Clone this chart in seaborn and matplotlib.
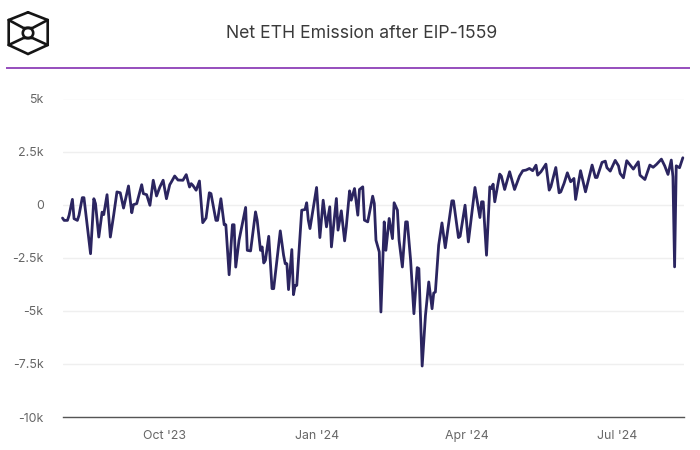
import matplotlib
matplotlib.use("Agg")
import matplotlib.pyplot as plt
import matplotlib.patches as mpatches
import pandas as pd
import seaborn as sns

start_date = "2023-07-31"

days_1 = [0, 1, 3, 4, 6, 7, 9, 10, 12, 13, 15, 17, 19, 20, 22, 24, 25, 27, 29, 31, 33, 35, 37, 40, 42, 43, 45, 48, 49, 51]
net_1 = [-630, -740, -740, -500, 250, -660, -740, -500, 330, 330, -975, -2310, 280, 50, -1525, -350, -470, 470, -1525, -500, 600, 560, -160, 880, -380, 0, 50, 940, 520, 470]

days_2 = [53, 55, 57, 59, 61, 63, 65, 66, 68, 70, 73, 75, 77, 78, 79, 81, 83, 85, 87, 89, 90, 93, 94, 96, 98, 99, 101, 103, 104, 105]
net_2 = [-30, 1150, 410, 830, 1150, 280, 940, 1070, 1350, 1160, 1150, 1415, 830, 990, 910, 680, 1115, -850, -630, 560, 520, -740, -740, 280, -945, -945, -3300, -945, -945, -2940]

days_3 = [107, 111, 112, 114, 117, 118, 120, 121, 122, 123, 125, 127, 128, 132, 134, 135, 136, 137, 139, 140, 141, 142, 145, 147, 148, 149, 150, 154, 156, 158, 160]
net_3 = [-1680, -130, -2150, -2180, -340, -730, -2150, -1990, -2745, -2620, -1490, -3955, -3955, -1235, -2380, -2780, -2780, -4000, -2115, -4240, -3800, -3800, -260, -230, 90, -730, -1125, 810, -1550, 210, -1045]

days_4 = [162, 163, 166, 167, 169, 171, 172, 174, 175, 177, 179, 180, 182, 183, 185, 188, 189, 190, 192, 193, 195, 196, 198, 200, 201, 203, 204, 206, 208, 209, 211, 213, 215, 216]
net_4 = [-100, -1990, 290, -1200, -290, -1705, -1045, 650, 210, 760, -495, 715, 840, -730, -810, 400, 55, -1675, -2225, -5055, -810, -2150, -650, -1600, 90, -260, -1675, -2935, -810, -810, -2620, -5135, -2965, -3010]

days_5 = [218, 220, 222, 224, 225, 226, 228, 230, 232, 236, 237, 240, 241, 244, 246, 250, 253, 254, 255, 257, 259, 260, 261, 262, 265, 266, 268]
net_5 = [-7600, -5215, -3640, -4900, -4160, -4115, -1910, -860, -2030, 180, 180, -1550, -1490, -25, -1755, 810, -605, 135, 135, -2380, 840, 760, 965, 135, 1440, 1345, 715]

days_6 = [271, 274, 277, 279, 281, 283, 285, 287, 288, 290, 293, 295, 296, 299, 301, 302, 304, 306, 308, 310, 311, 314, 317, 321, 323, 324]
net_6 = [1550, 715, 1345, 1600, 1630, 1705, 1600, 1860, 1390, 1550, 1910, 685, 840, 1750, 560, 600, 1000, 1500, 1080, 1235, 245, 1600, 605, 1865, 1280, 1280]

days_7 = [327, 329, 330, 332, 335, 337, 338, 340, 342, 346, 349, 350, 353, 356, 358, 360, 363, 365, 367, 369, 370, 371, 372, 374, 376]
net_7 = [1990, 2050, 1740, 1580, 2085, 1830, 1470, 1265, 2070, 1675, 2020, 1390, 1185, 1865, 1760, 1895, 2145, 1830, 1425, 2100, 1315, -2930, 1830, 1740, 2210]

y_ticks = [5000, 2500, 0, -2500, -5000, -7500, -10000]
y_tick_labels = ["5k", "2.5k", "0", "-2.5k", "-5k", "-7.5k", "-10k"]
x_ticks = ["2023-10-01", "2024-01-01", "2024-04-01", "2024-07-01"]
x_tick_labels = ["Oct '23", "Jan '24", "Apr '24", "Jul '24"]

sns.set_theme(style="white")
plt.rcParams["font.family"] = ["Inter", "DejaVu Sans"]

day_offsets = days_1 + days_2 + days_3 + days_4 + days_5 + days_6 + days_7
net_emission = net_1 + net_2 + net_3 + net_4 + net_5 + net_6 + net_7
frame = pd.DataFrame({
    "date": pd.Timestamp(start_date) + pd.to_timedelta(day_offsets, unit="D"),
    "net": net_emission,
})

W, H = 700, 450
fig = plt.figure(figsize=(W / 100, H / 100), dpi=100, facecolor="white")
ax = fig.add_axes([62.5 / W, 1 - 417 / H, (683.5 - 62.5) / W, (417 - 98.5) / H])

sns.lineplot(data=frame, x="date", y="net", estimator=None, sort=False,
             color="#2b2560", linewidth=2.0, ax=ax, clip_on=False,
             solid_joinstyle="round")

ax.set_xlim(pd.Timestamp(start_date), pd.Timestamp(start_date) + pd.Timedelta(days=376.4))
ax.set_ylim(-10000, 5000)
ax.set_xlabel("")
ax.set_ylabel("")
ax.set_yticks(y_ticks, y_tick_labels)
ax.set_xticks(pd.to_datetime(x_ticks), x_tick_labels)
ax.tick_params(axis="both", length=0, labelsize=8.9, labelcolor="#666666")
ax.tick_params(axis="y", pad=13.5)
ax.tick_params(axis="x", pad=9.5)
ax.grid(axis="y", color="#efefef", linewidth=1)
ax.grid(axis="x", visible=False)
ax.set_axisbelow(True)
for side in ["top", "left", "right"]:
    ax.spines[side].set_visible(False)
ax.spines["bottom"].set_color("#555555")
ax.spines["bottom"].set_linewidth(1)

# Header overlay in pixel coordinates
over = fig.add_axes([0, 0, 1, 1], facecolor="none")
over.set_xlim(0, W)
over.set_ylim(H, 0)
over.axis("off")
over.text(361.5, 34, "Net ETH Emission after EIP-1559", ha="center", va="center",
          fontsize=12.7, color="#3a3a3a")
over.plot([6, 690], [68, 68], color="#8e3fb8", linewidth=1.3, solid_capstyle="butt")
hex_x = [28, 47.7, 47.7, 28, 8.7, 8.7, 28]
hex_y = [12.3, 20, 45, 54, 45, 20, 12.3]
logo = dict(color="#151515", linewidth=1.9, solid_joinstyle="miter")
over.plot(hex_x, hex_y, **logo)
over.plot([8.7, 23.5, 32.5, 47.7], [20, 28, 28, 20], **logo)
over.plot([8.7, 23.5, 32.5, 47.7], [45, 38, 38, 45], **logo)
over.add_patch(mpatches.Circle((28, 33), 5.2, fill=False, edgecolor="#151515", linewidth=1.9))

fig.savefig("out.png", dpi=100, facecolor="white")
